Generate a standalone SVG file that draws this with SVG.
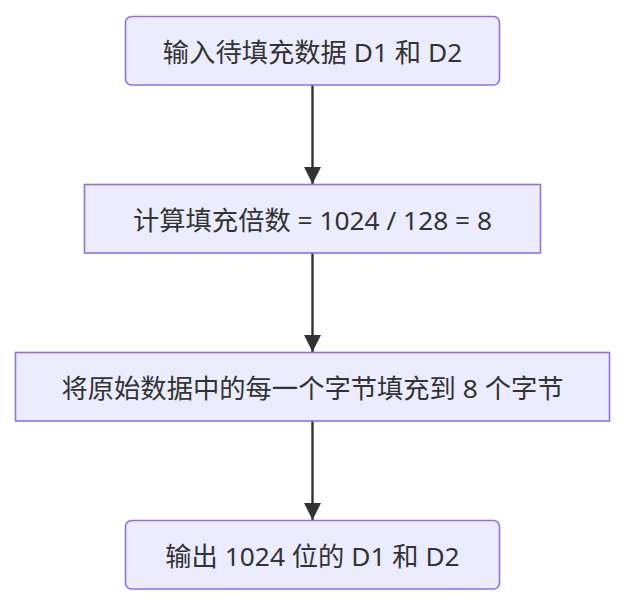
<svg xmlns="http://www.w3.org/2000/svg" width="635" height="609" viewBox="0 0 635 609">
<style>
.node rect{fill:#ECECFF;stroke:#9370DB;stroke-width:1.6}
.node text{font-family:"Noto Sans","Noto Sans CJK SC",sans-serif;font-size:26.3px;fill:#333;text-anchor:middle;dominant-baseline:central}
.edge{stroke:#333;stroke-width:2.4;fill:none}
</style>
<defs>
<marker id="arrow" viewBox="0 0 10 10" refX="10" refY="5" markerUnits="userSpaceOnUse" markerWidth="17" markerHeight="17" orient="auto">
<path d="M0,0 L10,5 L0,10 z" fill="#333"/>
</marker>
</defs>
<rect width="635" height="609" fill="#fff"/>
<g id="connectors">
<line class="edge" x1="312.5" y1="85" x2="312.5" y2="184" marker-end="url(#arrow)"/>
<line class="edge" x1="312.5" y1="253" x2="312.5" y2="352" marker-end="url(#arrow)"/>
<line class="edge" x1="312.5" y1="421" x2="312.5" y2="520" marker-end="url(#arrow)"/>
</g>
<g id="node1" class="node">
<rect x="125.5" y="16.5" width="374" height="68.5" rx="6" ry="6"/>
<text x="312.5" y="51.5">输入待填充数据 D1 和 D2</text>
</g>
<g id="node2" class="node">
<rect x="84.5" y="184.5" width="456" height="68.5"/>
<text x="312.5" y="219.5">计算填充倍数 = 1024 / 128 = 8</text>
</g>
<g id="node3" class="node">
<rect x="15.5" y="352.5" width="594" height="68.5"/>
<text x="312.5" y="387.5">将原始数据中的每一个字节填充到 8 个字节</text>
</g>
<g id="node4" class="node">
<rect x="125.5" y="520.5" width="374" height="68.5" rx="6" ry="6"/>
<text x="312.5" y="555.5">输出 1024 位的 D1 和 D2</text>
</g>
</svg>
